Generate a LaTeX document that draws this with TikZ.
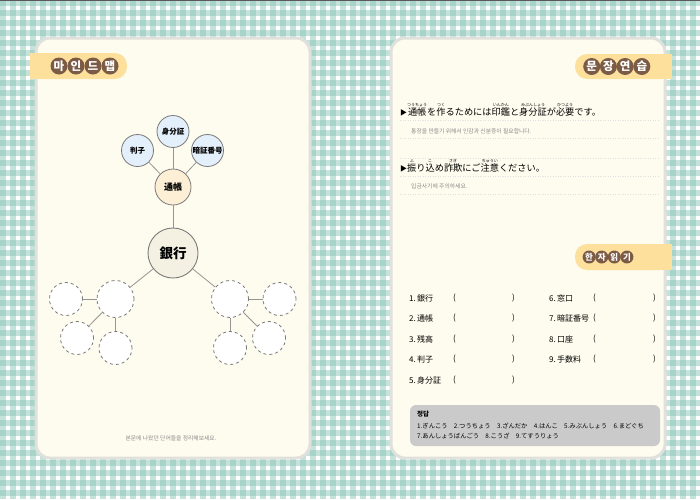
\documentclass[tikz,border=0pt]{standalone}
\usepackage{fontspec}
\newfontfamily\jp{Noto Sans CJK JP}
\newfontfamily\kr{Noto Sans CJK KR}
\usetikzlibrary{calc}

\definecolor{check}{HTML}{8CC6B9}
\definecolor{paper}{HTML}{FEFCEE}
\definecolor{rim}{HTML}{E0E0DC}
\definecolor{tabcol}{HTML}{FCE09C}
\definecolor{bean}{HTML}{7B5B45}
\definecolor{wordblue}{HTML}{E3EFFA}
\definecolor{wordorange}{HTML}{FCEFD6}
\definecolor{wordbank}{HTML}{F4F1E3}
\definecolor{edge}{HTML}{7A7A7A}
\definecolor{note}{HTML}{8A8A8A}
\definecolor{answer}{HTML}{CACACA}

% small reading above a word
\newcommand{\furi}[2]{\leavevmode\vbox{\offinterlineskip\halign{\hfil##\hfil\cr
  \fontsize{4}{4}\selectfont #2\cr\noalign{\kern0.6pt}#1\cr}}}

\begin{document}
\begin{tikzpicture}[x=1pt,y=-1pt,
  bean/.style={circle,fill=bean,text=white,inner sep=0pt,minimum size=17pt,
    font=\kr\bfseries\fontsize{11.5}{11.5}\selectfont},
  smallbean/.style={bean,minimum size=13pt,font=\kr\bfseries\fontsize{8.5}{8.5}\selectfont},
  bank/.style={circle,draw=edge,line width=0.9pt,fill=wordbank,inner sep=0pt,
    minimum size=50pt,font=\jp\bfseries\fontsize{13.5}{13.5}\selectfont},
  hub/.style={circle,draw=edge,line width=0.8pt,fill=wordorange,inner sep=0pt,
    minimum size=36pt,font=\jp\bfseries\fontsize{9}{9}\selectfont},
  leaf/.style={circle,draw=edge,line width=0.8pt,fill=wordblue,inner sep=0pt,
    minimum size=32pt,font=\jp\bfseries\fontsize{7.5}{7.5}\selectfont},
  blank/.style={circle,draw=edge,dashed,line width=0.8pt,fill=white,inner sep=0pt,
    minimum size=33pt},
  bigblank/.style={blank,minimum size=37pt},
  stem/.style={draw=edge!80,line width=0.8pt},
  rule/.style={draw=black!12,line width=0.5pt,dotted},
  item/.style={anchor=west,inner sep=0pt,font=\jp\fontsize{8}{8}\selectfont},
  ]

	% Fix the page to the size of the picture
	\useasboundingbox (0,0) rectangle (700,499);

	% Draw the checked background
	\fill[white] (0,0) rectangle (700,499);
	\foreach \i in {0,...,70} {
		\fill[check,opacity=0.5] (\i*10,0) rectangle ++(5.5,499);
		\fill[check,opacity=0.5] (0,\i*10) rectangle ++(700,5.5);
	}
	\fill[black!65] (0,0) rectangle (700,1);

	% Draw the two pages
	\draw[rim,line width=3pt,fill=paper,rounded corners=14pt] (36,38) rectangle (310,458);
	\draw[rim,line width=3pt,fill=paper,rounded corners=14pt] (391,38) rectangle (665,458);

	% Draw the tabs with their titles
	\fill[tabcol,rounded corners=12pt] (30,53) rectangle (127,79);
	\fill[tabcol] (30,53) rectangle (60,79);
	\foreach \ch [count=\k] in {마,인,드,맵}
		\node[bean] (mind\k) at ({42+17*\k},66) {\ch};

	\fill[tabcol,rounded corners=12pt] (575,54) rectangle (672,79);
	\fill[tabcol] (640,54) rectangle (672,79);
	\foreach \ch [count=\k] in {문,장,연,습}
		\node[bean] (sent\k) at ({575+16.7*\k},66.5) {\ch};

	\fill[tabcol,rounded corners=12pt] (575,244) rectangle (672,270);
	\fill[tabcol] (640,244) rectangle (672,270);
	\foreach \ch [count=\k] in {한,자,읽,기}
		\node[smallbean] (read\k) at ({576.5+12.6*\k},257) {\ch};

	% Draw the mind map
	\node[bank] (ginko) at (173,253) {銀行};
	\node[hub] (tsucho) at (173,187) {通帳};
	\node[leaf] (mibun) at (173,131.5) {身分証};
	\node[leaf] (hanko) at (137.5,150.5) {判子};
	\node[leaf] (ansho) at (207.5,150.5) {暗証番号};

	\draw[stem] (ginko) -- (tsucho);
	\draw[stem] (tsucho) -- (mibun);
	\draw[stem] (tsucho) -- (hanko);
	\draw[stem] (tsucho) -- (ansho);

	% Empty circles to fill in
	\node[bigblank] (left) at (115.5,299) {};
	\node[blank] (left1) at (66,299) {};
	\node[blank] (left2) at (77,338) {};
	\node[blank] (left3) at (115.5,348) {};
	\node[bigblank] (right) at (230,299) {};
	\node[blank] (right1) at (279.5,299) {};
	\node[blank] (right2) at (269,338) {};
	\node[blank] (right3) at (230,348) {};

	\draw[stem] (ginko) -- (left);
	\draw[stem] (ginko) -- (right);
	\foreach \n in {1,2,3} {
		\draw[stem] (left) -- (left\n);
		\draw[stem] (right) -- (right\n);
	}

	\node[font=\kr\fontsize{5.8}{5.8}\selectfont,text=note] (hint) at (171,438)
		{본문에 나왔던 단어들을 정리해보세요.};

	% Sentences with readings
	\node[anchor=base west,inner sep=0pt,font=\jp\fontsize{9}{9}\selectfont] (s1) at (400,115)
		{\fontsize{7}{7}\selectfont▶\fontsize{9.2}{9.2}\selectfont\furi{通帳}{つうちょう}を\furi{作}{つく}るためには\furi{印鑑}{いんかん}と\furi{身分証}{みぶんしょう}が\furi{必要}{ひつよう}です。};
	\node[anchor=base west,inner sep=0pt,font=\kr\fontsize{5.8}{5.8}\selectfont,text=note] (k1) at (411,133)
		{통장을 만들기 위해서 인감과 신분증이 필요합니다.};
	\node[anchor=base west,inner sep=0pt,font=\jp\fontsize{9}{9}\selectfont] (s2) at (400,171)
		{\fontsize{7}{7}\selectfont▶\fontsize{9.2}{9.2}\selectfont\furi{振}{ふ}り\furi{込}{こ}め\furi{詐欺}{さぎ}にご\furi{注意}{ちゅうい}ください。};
	\node[anchor=base west,inner sep=0pt,font=\kr\fontsize{5.8}{5.8}\selectfont,text=note] (k2) at (411,188)
		{입금사기에 주의하세요.};

	\foreach \y in {120,138,158,176,194}
		\draw[rule] (400,\y) -- (660,\y);

	% Words to read
	\foreach \word [count=\k] in {銀行,通帳,残高,判子,身分証} {
		\node[item] (w\k) at (409,{277.5+20.5*\k}) {\k.\,\word};
		\node[item] (wo\k) at (453,{277.5+20.5*\k}) {(};
		\node[item] (wc\k) at (512,{277.5+20.5*\k}) {)};
	}
	\foreach \word [count=\k] in {窓口,暗証番号,口座,手数料} {
		\pgfmathtruncatemacro{\n}{\k+5}
		\node[item] (v\k) at (549,{277.5+20.5*\k}) {\n.\,\word};
		\node[item] (vo\k) at (593,{277.5+20.5*\k}) {(};
		\node[item] (vc\k) at (653,{277.5+20.5*\k}) {)};
	}

	% Answer box
	\fill[answer,rounded corners=6pt] (410,405) rectangle (660,446);
	\node[anchor=west,inner sep=0pt,font=\kr\bfseries\fontsize{6.5}{6.5}\selectfont] (dap) at (417,414) {정답};
	\node[anchor=west,inner sep=0pt,font=\jp\fontsize{6.3}{6.3}\selectfont] (dap1) at (417,425.5)
		{1.ぎんこう\quad 2.つうちょう\quad 3.ざんだか\quad 4.はんこ\quad 5.みぶんしょう\quad 6.まどぐち};
	\node[anchor=west,inner sep=0pt,font=\jp\fontsize{6.3}{6.3}\selectfont] (dap2) at (417,436)
		{7.あんしょうばんごう\quad 8.こうざ\quad 9.てすうりょう};

\end{tikzpicture}
\end{document}
